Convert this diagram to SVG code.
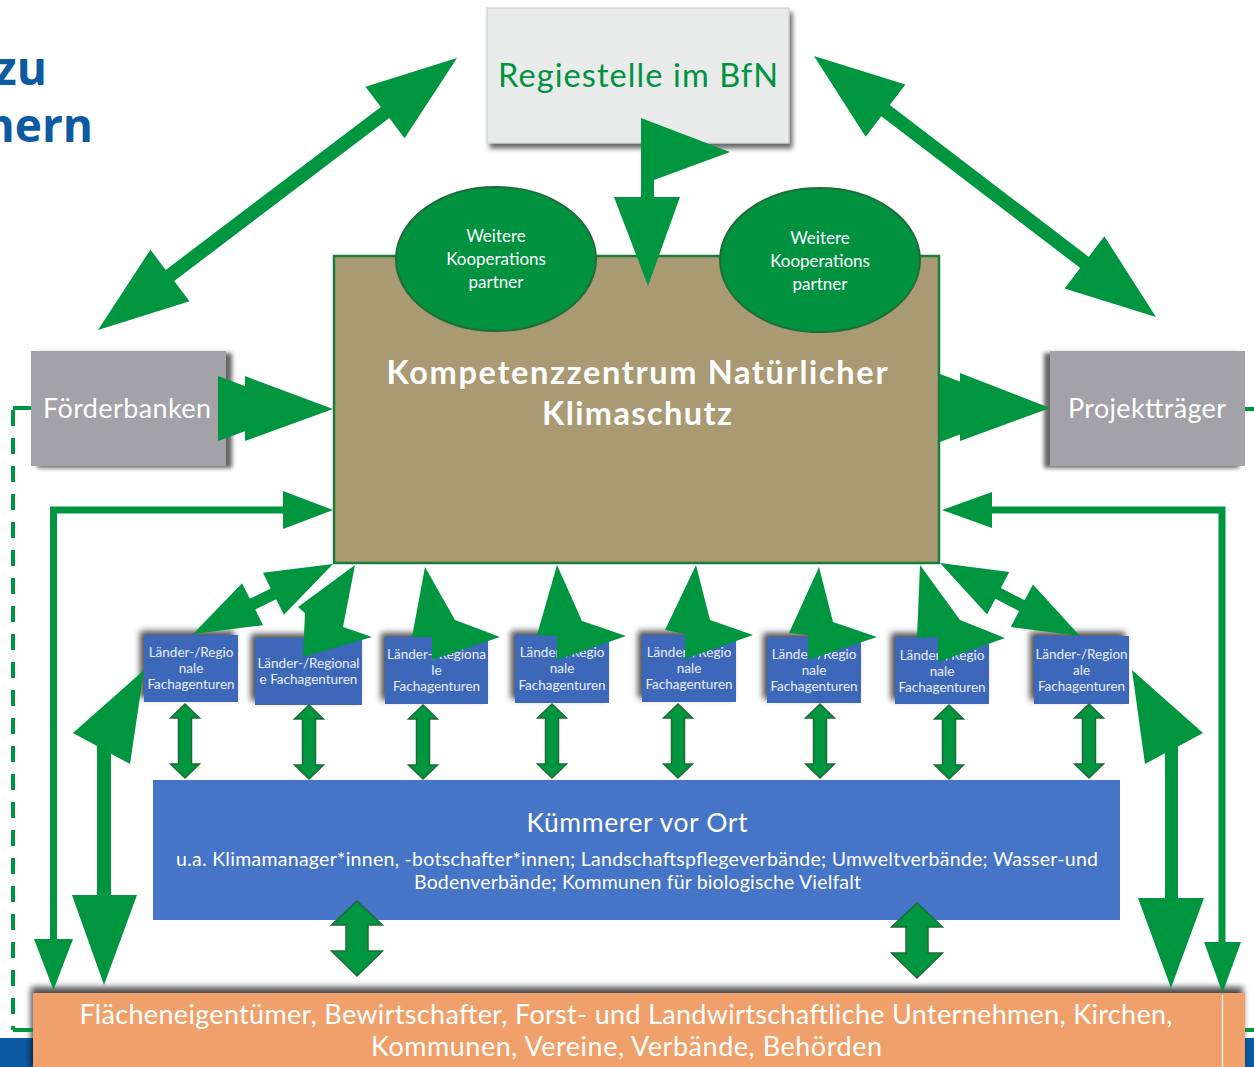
<svg xmlns="http://www.w3.org/2000/svg" width="1254" height="1067" viewBox="0 0 1254 1067">
<defs>
<style>
.t{font-family:Lato,"Open Sans","Liberation Sans",sans-serif;fill:#fff;text-anchor:middle}
.g{fill:#00953F}
.gl{fill:none;stroke:#00953F;stroke-width:7;stroke-linejoin:miter}
.sb{fill:#3D68B9;filter:url(#shTL)}
.st{font-size:13.5px;fill:#E8EEF9}
.et{font-size:17px}
.dbl{fill:#00953F;stroke:#1E6B35;stroke-width:1.5}
.ti{font-family:'Open Sans','Liberation Sans',sans-serif;font-weight:bold;font-size:46px;fill:#0B5AA2;text-anchor:end}
</style>
<filter id="shBR" x="-10%" y="-10%" width="130%" height="130%"><feDropShadow dx="3" dy="5" stdDeviation="2.5" flood-color="#000" flood-opacity="0.6"/></filter>
<filter id="shR" x="-10%" y="-10%" width="130%" height="130%"><feDropShadow dx="6" dy="2" stdDeviation="2" flood-color="#000" flood-opacity="0.6"/></filter>
<filter id="shL" x="-20%" y="-10%" width="130%" height="130%"><feDropShadow dx="-6" dy="2" stdDeviation="2" flood-color="#000" flood-opacity="0.6"/></filter>
<filter id="shTL" x="-20%" y="-30%" width="140%" height="150%"><feDropShadow dx="-4" dy="-4" stdDeviation="3" flood-color="#000" flood-opacity="0.7"/></filter>
<filter id="shT" x="-5%" y="-30%" width="110%" height="140%"><feDropShadow dx="-2" dy="-6" stdDeviation="3" flood-color="#000" flood-opacity="0.7"/></filter>
<path id="dblS" d="M0,0 L14.5,14 L6.5,14 L6.5,60 L14.5,60 L0,74 L-14.5,60 L-6.5,60 L-6.5,14 L-14.5,14 Z"/>
<path id="dblB" d="M0,0 L25.5,24 L11,24 L11,50 L25.5,50 L0,75 L-25.5,50 L-11,50 L-11,24 L-25.5,24 Z"/>
</defs>
<rect width="1254" height="1067" fill="#fff"/>

<g id="title">
<text class="ti" x="47" y="85">zu</text>
<text class="ti" x="93" y="142">nern</text>
</g>

<g id="footer">
<rect x="0" y="1038" width="33" height="29" fill="#0B5AA2"/>
<rect x="1245" y="1038" width="9" height="29" fill="#0B5AA2"/>
</g>

<g id="regiestelle">
<rect x="487" y="8" width="302" height="135" fill="#E9EBEB" stroke="#C9CBCB" stroke-width="1" filter="url(#shBR)"/>
<text class="t" x="638" y="87" style="font-size:32.5px;fill:#00923F" textLength="280" lengthAdjust="spacing">Regiestelle im BfN</text>
</g>

<g id="kompetenzzentrum">
<rect x="334" y="256" width="605" height="307" fill="#A99A73" stroke="#1B7B3A" stroke-width="2.5"/>
<text class="t" x="637" y="384" style="font-size:32.5px;font-weight:bold" textLength="501" lengthAdjust="spacing">Kompetenzzentrum Natürlicher</text>
<text class="t" x="637" y="425" style="font-size:32.5px;font-weight:bold" textLength="190" lengthAdjust="spacing">Klimaschutz</text>
</g>

<g id="partner1">
<ellipse cx="496" cy="259" rx="100" ry="72" fill="#00923F" stroke="#1E6E37" stroke-width="2"/>
<text class="t et" x="496" y="242">Weitere</text>
<text class="t et" x="496" y="265">Kooperations</text>
<text class="t et" x="496" y="288">partner</text>
</g>

<g id="partner2">
<ellipse cx="820" cy="260" rx="100" ry="72" fill="#00923F" stroke="#1E6E37" stroke-width="2"/>
<text class="t et" x="820" y="244">Weitere</text>
<text class="t et" x="820" y="267">Kooperations</text>
<text class="t et" x="820" y="290">partner</text>
</g>

<g id="foerderbanken">
<rect x="31" y="351" width="195" height="115" fill="#A3A2A7" filter="url(#shR)"/>
<text class="t" x="127" y="418" style="font-size:27px" textLength="168" lengthAdjust="spacing">Förderbanken</text>
</g>

<g id="projekttraeger">
<rect x="1050" y="351" width="195" height="115" fill="#A3A2A7" filter="url(#shL)"/>
<text class="t" x="1147" y="418" style="font-size:27px" textLength="158" lengthAdjust="spacing">Projektträger</text>
</g>

<g id="fa1"><rect class="sb" x="144" y="635" width="94" height="67"/>
<text class="t st" x="191" y="657">Länder-/Regio</text><text class="t st" x="191" y="673">nale</text><text class="t st" x="191" y="689">Fachagenturen</text></g>
<g id="fa2"><rect class="sb" x="255" y="638" width="107" height="67"/>
<text class="t st" x="308.5" y="668">Länder-/Regional</text><text class="t st" x="308.5" y="684">e Fachagenturen</text></g>
<g id="fa3"><rect class="sb" x="385" y="637" width="103" height="67"/>
<text class="t st" x="436.5" y="659">Länder-/Regiona</text><text class="t st" x="436.5" y="675">le</text><text class="t st" x="436.5" y="691">Fachagenturen</text></g>
<g id="fa4"><rect class="sb" x="515" y="635" width="94" height="68"/>
<text class="t st" x="562" y="657">Länder-/Regio</text><text class="t st" x="562" y="673">nale</text><text class="t st" x="562" y="690">Fachagenturen</text></g>
<g id="fa5"><rect class="sb" x="642" y="635" width="94" height="67"/>
<text class="t st" x="689" y="657">Länder-/Regio</text><text class="t st" x="689" y="673">nale</text><text class="t st" x="689" y="689">Fachagenturen</text></g>
<g id="fa6"><rect class="sb" x="767" y="637" width="94" height="66"/>
<text class="t st" x="814" y="659">Länder-/Regio</text><text class="t st" x="814" y="675">nale</text><text class="t st" x="814" y="691">Fachagenturen</text></g>
<g id="fa7"><rect class="sb" x="895" y="637" width="94" height="67"/>
<text class="t st" x="942" y="660">Länder-/Regio</text><text class="t st" x="942" y="676">nale</text><text class="t st" x="942" y="692">Fachagenturen</text></g>
<g id="fa8"><rect class="sb" x="1034" y="636" width="95" height="68"/>
<text class="t st" x="1081.5" y="659">Länder-/Region</text><text class="t st" x="1081.5" y="675">ale</text><text class="t st" x="1081.5" y="691">Fachagenturen</text></g>

<g id="kuemmerer">
<rect x="153" y="780" width="967" height="140" fill="#4674C6"/>
<text class="t" x="637" y="832" style="font-size:26.5px" textLength="221" lengthAdjust="spacing">Kümmerer vor Ort</text>
<text class="t" x="637" y="866" style="font-size:19.5px" textLength="922" lengthAdjust="spacing">u.a. Klimamanager*innen, -botschafter*innen; Landschaftspflegeverbände; Umweltverbände; Wasser-und</text>
<text class="t" x="637.5" y="889" style="font-size:19.5px" textLength="447" lengthAdjust="spacing">Bodenverbände; Kommunen für biologische Vielfalt</text>
</g>

<g id="flaecheneigentuemer">
<rect x="33" y="993" width="1212" height="80" fill="#F0A06B" filter="url(#shT)"/>
<line x1="1222.5" y1="995" x2="1222.5" y2="1067" stroke="#fff" stroke-width="1.2"/>
<text class="t" x="626" y="1024" style="font-size:27px" textLength="1093" lengthAdjust="spacing">Flächeneigentümer, Bewirtschafter, Forst- und Landwirtschaftliche Unternehmen, Kirchen,</text>
<text class="t" x="626.5" y="1056" style="font-size:27px" textLength="511" lengthAdjust="spacing">Kommunen, Vereine, Verbände, Behörden</text>
</g>

<g id="connectors">
<path d="M31,408 H13" fill="none" stroke="#00953F" stroke-width="4"/>
<path d="M13,410 V1030" fill="none" stroke="#00953F" stroke-width="4" stroke-dasharray="16,12"/>
<path d="M13,1030 H33" fill="none" stroke="#00953F" stroke-width="4"/>
<path d="M1245,409 H1254" fill="none" stroke="#00953F" stroke-width="4"/>
<path d="M1245,1030 H1254" fill="none" stroke="#00953F" stroke-width="4"/>

<path class="g" transform="translate(98,330) rotate(-37.15)" d="M0,0 L90.3,-32.4 L90.3,-7 L360.1,-7 L360.1,-32.4 L450.4,0 L360.1,32.4 L360.1,7 L90.3,7 L90.3,32.4 Z"/>
<path class="g" transform="translate(814,56) rotate(37.35)" d="M0,0 L90,-32.8 L90,-7 L340.2,-7 L340.2,-32.8 L430.2,0 L340.2,32.8 L340.2,7 L90,7 L90,32.8 Z"/>

<polygon class="g" points="641,118 730,152 654,180 654,197 680,197 648,286 614,197 641,197"/>

<polygon class="g" points="218,376 306,409 218,441"/>
<polygon class="g" points="245,376 333,409 245,441"/>
<polygon class="g" points="940,374 1029,408 940,442"/>
<polygon class="g" points="960,373 1050,408 960,441"/>

<path class="gl" d="M53.5,940 V510 H285"/>
<polygon class="g" points="283,491 333,510 283,529"/>
<polygon class="g" points="34,939 73,939 53.5,990"/>
<path class="gl" d="M1222,942 V510 H990"/>
<polygon class="g" points="992,492 942,510 992,528"/>
<polygon class="g" points="1204,942 1241,942 1222.5,993"/>

<polygon class="g" points="144,670 130,764 111,753.7 111,895 137,895 104,985 72,895 97,895 97,746 73,733"/>
<polygon class="g" points="1132,670 1203,733 1178,746.4 1178,898 1204,898 1171,988 1138,898 1165,898 1165,753.3 1145,764"/>

<path class="g" transform="translate(193,634) rotate(-26.57)" d="M0,0 L66.6,-23.5 L66.6,-6 L89.9,-6 L89.9,-23.5 L156.5,0 L89.9,23.5 L89.9,6 L66.6,6 L66.6,23.5 Z"/>
<polygon class="g" points="355,565 298,607 305,613 303,657 372,637 343,627"/>
<polygon class="g" points="425,567 412,637 432,637 432,660 500,637 455,620"/>
<polygon class="g" points="557,565 537,635 557,636 557,660 626,636 582,621"/>
<polygon class="g" points="696,565 665,630 685,634 685,659 753,635 710,620"/>
<polygon class="g" points="819,567 789,633 808,635 808,660 877,637 833,622"/>
<polygon class="g" points="920,565 917,638 938,637 938,662 1005,638 960,620"/>
<path class="g" transform="translate(940,563) rotate(27.54)" d="M0,0 L65.6,-24 L65.6,-6 L92.3,-6 L92.3,-24 L157.9,0 L92.3,24 L92.3,6 L65.6,6 L65.6,24 Z"/>

<use href="#dblS" class="dbl" x="185" y="704"/>
<use href="#dblS" class="dbl" x="309" y="705"/>
<use href="#dblS" class="dbl" x="423" y="705"/>
<use href="#dblS" class="dbl" x="552" y="704"/>
<use href="#dblS" class="dbl" x="678" y="704"/>
<use href="#dblS" class="dbl" x="820" y="704"/>
<use href="#dblS" class="dbl" x="949" y="705"/>
<use href="#dblS" class="dbl" x="1089" y="704"/>

<use href="#dblB" class="dbl" x="357" y="901"/>
<use href="#dblB" class="dbl" x="917" y="903"/>
</g>
</svg>
